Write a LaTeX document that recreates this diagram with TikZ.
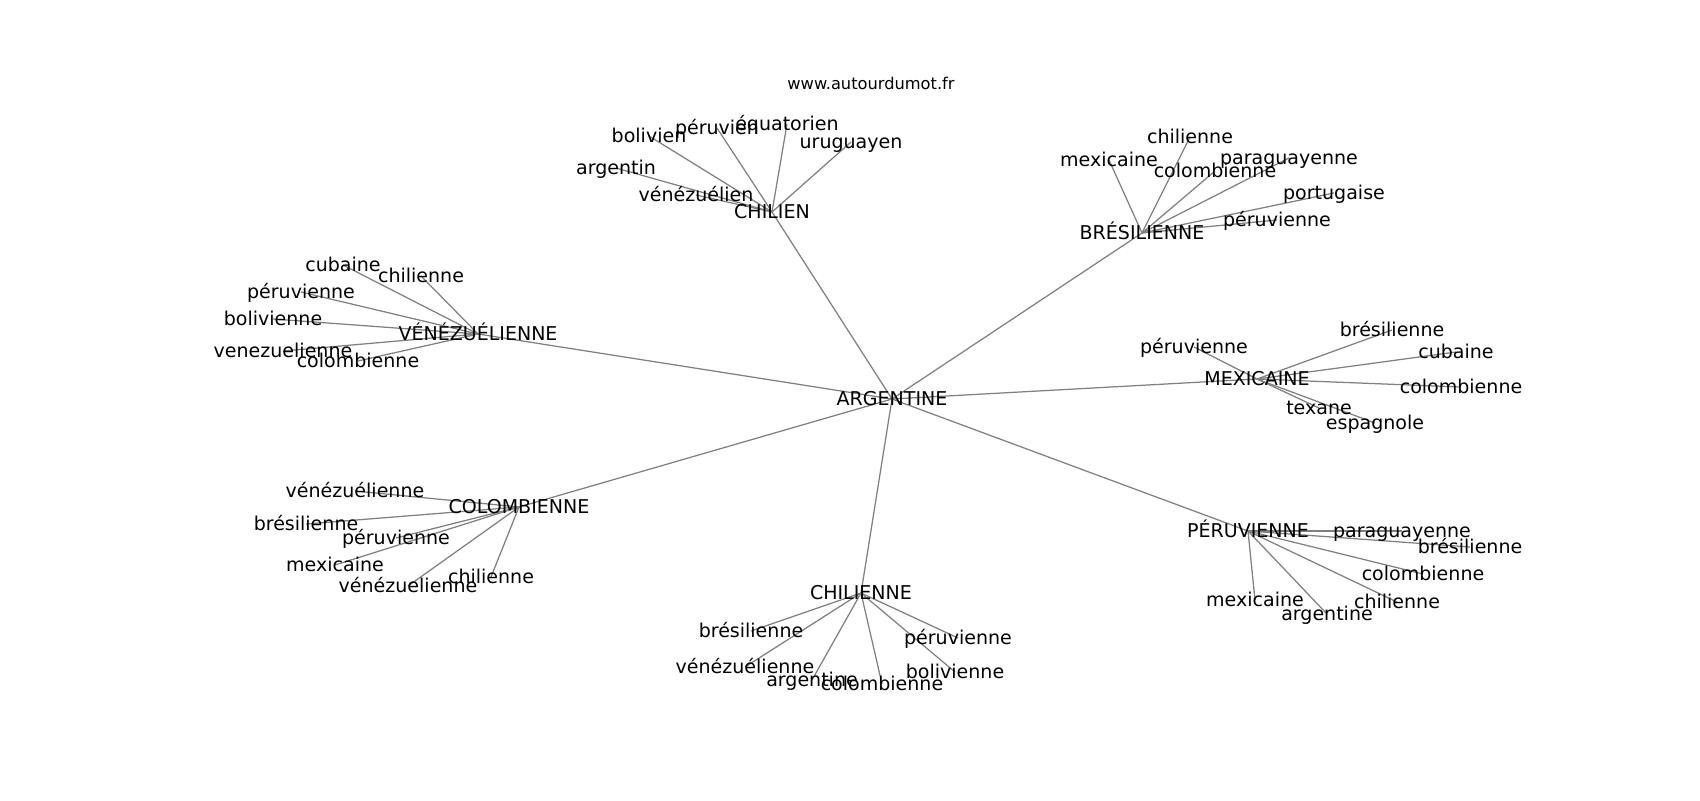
\documentclass[tikz,border=0pt]{standalone}
\usepackage{fontspec}
\setmainfont{DejaVu Sans}
\usetikzlibrary{backgrounds}
\definecolor{edgegray}{RGB}{128,128,128}
\tikzset{
  lbl/.style={inner sep=0pt, outer sep=0pt, anchor=center, text height=0.91em, text depth=0pt, font=\fontsize{13.7}{16}\selectfont},
  ttl/.style={inner sep=0pt, anchor=center, font=\fontsize{11.7}{14}\selectfont},
  edge/.style={draw=edgegray, line width=0.9pt}
}
\begin{document}
\begin{tikzpicture}[x=0.72pt, y=-0.72pt]
\useasboundingbox (0,0) rectangle (1700,800);
\node[ttl] (title) at (871,83) {www.autourdumot.fr};
\begin{scope}
\clip (212.5,96) rectangle (1530,712);
% hub
\node[lbl] (A) at (892,399) {ARGENTINE};
% CHILIEN
\node[lbl] (c1) at (772,212) {CHILIEN};
\node[lbl] (c1a) at (649,136) {bolivien};
\node[lbl] (c1b) at (717,128) {péruvien};
\node[lbl] (c1c) at (787,124) {équatorien};
\node[lbl] (c1d) at (851,142) {uruguayen};
\node[lbl] (c1e) at (616,168) {argentin};
\node[lbl] (c1f) at (696,195) {vénézuélien};
% BRESILIENNE
\node[lbl] (c2) at (1142,233) {BRÉSILIENNE};
\node[lbl] (c2a) at (1109,160) {mexicaine};
\node[lbl] (c2b) at (1190,137) {chilienne};
\node[lbl] (c2c) at (1215,171) {colombienne};
\node[lbl] (c2d) at (1289,158) {paraguayenne};
\node[lbl] (c2e) at (1334,193) {portugaise};
\node[lbl] (c2f) at (1277,220) {péruvienne};
% VENEZUELIENNE
\node[lbl] (c3) at (478,334) {VÉNÉZUÉLIENNE};
\node[lbl] (c3a) at (343,265) {cubaine};
\node[lbl] (c3b) at (421,276) {chilienne};
\node[lbl] (c3c) at (301,292) {péruvienne};
\node[lbl] (c3d) at (273,319) {bolivienne};
\node[lbl] (c3e) at (283,351) {venezuelienne};
\node[lbl] (c3f) at (358,361) {colombienne};
% MEXICAINE
\node[lbl] (c4) at (1257,379) {MEXICAINE};
\node[lbl] (c4a) at (1194,347) {péruvienne};
\node[lbl] (c4b) at (1392,330) {brésilienne};
\node[lbl] (c4c) at (1456,352) {cubaine};
\node[lbl] (c4d) at (1461,387) {colombienne};
\node[lbl] (c4e) at (1319,408) {texane};
\node[lbl] (c4f) at (1375,423) {espagnole};
% COLOMBIENNE
\node[lbl] (c5) at (519,507) {COLOMBIENNE};
\node[lbl] (c5a) at (355,491) {vénézuélienne};
\node[lbl] (c5b) at (306,524) {brésilienne};
\node[lbl] (c5c) at (396,538) {péruvienne};
\node[lbl] (c5d) at (335,565) {mexicaine};
\node[lbl] (c5e) at (408,586) {vénézuelienne};
\node[lbl] (c5f) at (491,577) {chilienne};
% CHILIENNE
\node[lbl] (c6) at (861,593) {CHILIENNE};
\node[lbl] (c6a) at (751,631) {brésilienne};
\node[lbl] (c6b) at (745,667) {vénézuélienne};
\node[lbl] (c6c) at (812,680) {argentine};
\node[lbl] (c6d) at (882,684) {colombienne};
\node[lbl] (c6e) at (958,638) {péruvienne};
\node[lbl] (c6f) at (955,672) {bolivienne};
% PERUVIENNE
\node[lbl] (c7) at (1248,531) {PÉRUVIENNE};
\node[lbl] (c7a) at (1402,531) {paraguayenne};
\node[lbl] (c7b) at (1470,547) {brésilienne};
\node[lbl] (c7c) at (1423,574) {colombienne};
\node[lbl] (c7d) at (1397,602) {chilienne};
\node[lbl] (c7e) at (1255,600) {mexicaine};
\node[lbl] (c7f) at (1327,614) {argentine};
\begin{pgfonlayer}{background}
\foreach \c in {c1,c2,c3,c4,c5,c6,c7}{
  \draw[edge] (A.center) -- (\c.center);
  \foreach \l in {a,b,c,d,e,f}{
    \draw[edge] (\c.center) -- (\c\l.center);
  }
}
\end{pgfonlayer}
\end{scope}
\end{tikzpicture}
\end{document}
